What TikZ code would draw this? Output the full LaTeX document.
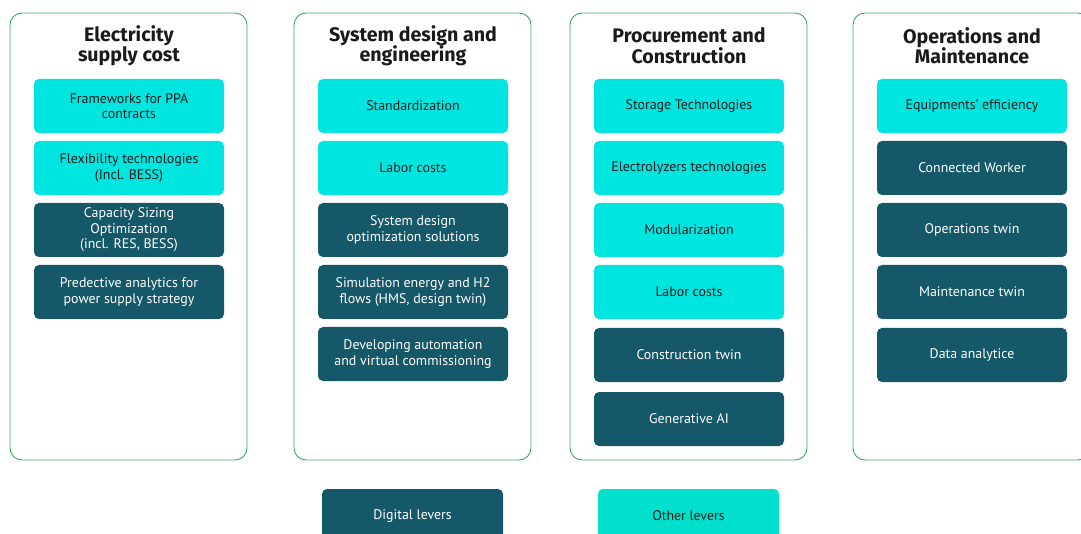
\documentclass[tikz,border=0pt]{standalone}
\usepackage{fontspec}
\setmainfont{PT Sans}
\newfontfamily\titlefont{Fira Sans}
\definecolor{dig}{HTML}{155869}
\definecolor{oth}{HTML}{00E5E0}
\definecolor{othleg}{HTML}{00E0CC}
\definecolor{frame}{HTML}{3DAA5C}
\definecolor{ink}{HTML}{1A1A1A}
\begin{document}
\begin{tikzpicture}[x=1pt,y=-1pt,
  colbox/.style={draw=frame,line width=0.9pt,rounded corners=12pt,minimum width=237pt,minimum height=447pt,inner sep=0pt},
  coltitle/.style={font=\titlefont\bfseries\fontsize{19.6}{20.5}\selectfont,align=center,text=ink},
  lever/.style={rounded corners=5pt,minimum width=190pt,minimum height=54pt,inner sep=2pt,align=center,font=\fontsize{13.9}{15.5}\selectfont},
  diglever/.style={lever,fill=dig,text=white},
  othlever/.style={lever,fill=oth,text=ink},
  legbox/.style={rounded corners=5pt,minimum width=181pt,minimum height=54pt,inner sep=2pt,font=\fontsize{13.9}{15.5}\selectfont}
]
\useasboundingbox (0,0) rectangle (1081,534);
\clip (0,0) rectangle (1081,534);
% columns
\node[colbox] (c1) at (128.5,236.5) {};
\node[colbox] (c2) at (412.5,236.5) {};
\node[colbox] (c3) at (688.5,236.5) {};
\node[colbox] (c4) at (971.5,236.5) {};
\node[coltitle] (t1) at (129,45.5) {Electricity\\supply cost};
\node[coltitle] (t2) at (413,45.5) {System design and\\engineering};
\node[coltitle] (t3) at (689,45.5) {Procurement and\\Construction};
\node[coltitle] (t4) at (972,45.5) {Operations and\\Maintenance};
% column 1
\node[othlever] (a1) at (129,106) {Frameworks for PPA\\contracts};
\node[othlever] (a2) at (129,168) {Flexibility technologies\\(Incl. BESS)};
\node[diglever] (a3) at (129,230) {Capacity Sizing\\Optimization\\(incl. RES, BESS)};
\node[diglever] (a4) at (129,292) {Predective analytics for\\power supply strategy};
% column 2
\node[othlever] (b1) at (413,106) {Standardization};
\node[othlever] (b2) at (413,168) {Labor costs};
\node[diglever] (b3) at (413,230) {System design\\optimization solutions};
\node[diglever] (b4) at (413,292) {Simulation energy and H2\\flows (HMS, design twin)};
\node[diglever] (b5) at (413,354) {Developing automation\\and virtual commissioning};
% column 3
\node[othlever] (p1) at (689,106) {Storage Technologies};
\node[othlever] (p2) at (689,168) {Electrolyzers technologies};
\node[othlever] (p3) at (689,230) {Modularization};
\node[othlever] (p4) at (689,292) {Labor costs};
\node[diglever] (p5) at (689,355) {Construction twin};
\node[diglever] (p6) at (689,419) {Generative AI};
% column 4
\node[othlever] (o1) at (972,106) {Equipments’ efficiency};
\node[diglever] (o2) at (972,168) {Connected Worker};
\node[diglever] (o3) at (972,230) {Operations twin};
\node[diglever] (o4) at (972,292) {Maintenance twin};
\node[diglever] (o5) at (972,355) {Data analytice};
% legend
\node[legbox,fill=dig,text=white] (l1) at (412.5,516) {Digital levers};
\node[legbox,fill=othleg,text=ink] (l2) at (688.5,516) {Other levers};
\end{tikzpicture}
\end{document}
